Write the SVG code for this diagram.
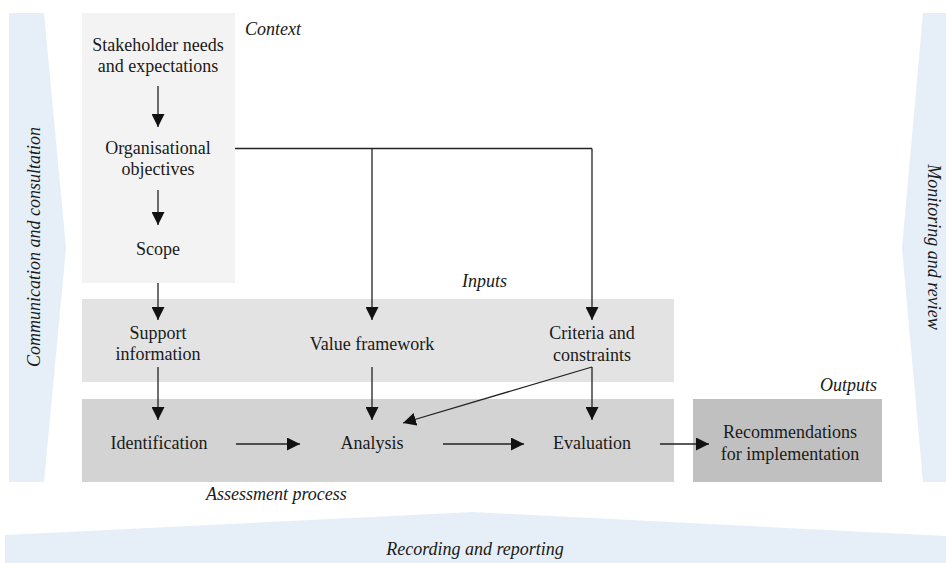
<svg xmlns="http://www.w3.org/2000/svg" width="946" height="563" viewBox="0 0 946 563">
<style>
.band{fill:#e6eff8}
.t{font-family:"Liberation Serif","Times New Roman",serif;font-size:18px;fill:#1a1a1a;text-anchor:middle}
.i{font-family:"Liberation Serif","Times New Roman",serif;font-size:18px;font-style:italic;fill:#1a1a1a}
.c{fill:none;stroke:#222;stroke-width:1.3}
</style>
<defs>
<marker id="ah" markerUnits="userSpaceOnUse" markerWidth="13" markerHeight="13" viewBox="0 0 12 12" refX="12" refY="6" orient="auto">
<path d="M0,0 L12,6 L0,12 z" fill="#111"/>
</marker>
</defs>
<rect width="946" height="563" fill="#fff"/>

<g id="communication-band">
<polygon class="band" points="9,13 44,13 66,248 44,482 9,482"/>
<text class="i" transform="translate(40,247) rotate(-90)" text-anchor="middle">Communication and consultation</text>
</g>
<g id="monitoring-band">
<polygon class="band" points="923,13 946,13 946,482 923,482 902,248"/>
<text class="i" transform="translate(928,247) rotate(90)" text-anchor="middle">Monitoring and review</text>
</g>
<g id="recording-band">
<polygon class="band" points="5,535 473,512 946,536 946,563 5,563"/>
<text class="i" x="475" y="555" text-anchor="middle">Recording and reporting</text>
</g>

<g id="context">
<rect x="82" y="13" width="153" height="270" fill="#f3f3f3"/>
<text class="i" x="245" y="35">Context</text>
</g>
<g id="inputs">
<rect x="82" y="299" width="592" height="83" fill="#e3e3e3"/>
<text class="i" x="462" y="287">Inputs</text>
</g>
<g id="assessment">
<rect x="82" y="399" width="592" height="83" fill="#d3d3d3"/>
<text class="i" x="206" y="500">Assessment process</text>
</g>
<g id="outputs">
<rect x="693" y="399" width="189" height="83" fill="#c0c0c0"/>
<text class="i" x="877" y="391" text-anchor="end">Outputs</text>
</g>

<g id="stakeholder"><text class="t" x="158" y="51">Stakeholder needs</text><text class="t" x="158" y="72">and expectations</text></g>
<g id="objectives"><text class="t" x="158" y="154">Organisational</text><text class="t" x="158" y="175">objectives</text></g>
<g id="scope"><text class="t" x="158" y="255">Scope</text></g>
<g id="support"><text class="t" x="158" y="339">Support</text><text class="t" x="158" y="360">information</text></g>
<g id="value"><text class="t" x="372" y="350">Value framework</text></g>
<g id="criteria"><text class="t" x="592" y="339">Criteria and</text><text class="t" x="592" y="361">constraints</text></g>
<g id="identification"><text class="t" x="159" y="449">Identification</text></g>
<g id="analysis"><text class="t" x="372" y="449">Analysis</text></g>
<g id="evaluation"><text class="t" x="592" y="449">Evaluation</text></g>
<g id="recommendations"><text class="t" x="790" y="438">Recommendations</text><text class="t" x="790" y="460">for implementation</text></g>

<g id="connectors">
<line class="c" x1="158" y1="86" x2="158" y2="127" marker-end="url(#ah)"/>
<line class="c" x1="158" y1="190" x2="158" y2="225" marker-end="url(#ah)"/>
<line class="c" x1="158" y1="283" x2="158" y2="320" marker-end="url(#ah)"/>
<line class="c" x1="158" y1="367" x2="158" y2="420" marker-end="url(#ah)"/>
<polyline class="c" points="235,148.5 592,148.5"/>
<line class="c" x1="372" y1="148.5" x2="372" y2="320" marker-end="url(#ah)"/>
<line class="c" x1="592" y1="148.5" x2="592" y2="320" marker-end="url(#ah)"/>
<line class="c" x1="372" y1="367" x2="372" y2="420" marker-end="url(#ah)"/>
<line class="c" x1="592" y1="367" x2="592" y2="420" marker-end="url(#ah)"/>
<line class="c" x1="592" y1="367" x2="403" y2="423" marker-end="url(#ah)"/>
<line class="c" x1="236" y1="444" x2="300" y2="444" marker-end="url(#ah)"/>
<line class="c" x1="443" y1="444" x2="524" y2="444" marker-end="url(#ah)"/>
<line class="c" x1="660" y1="444" x2="709" y2="444" marker-end="url(#ah)"/>
</g>
</svg>
